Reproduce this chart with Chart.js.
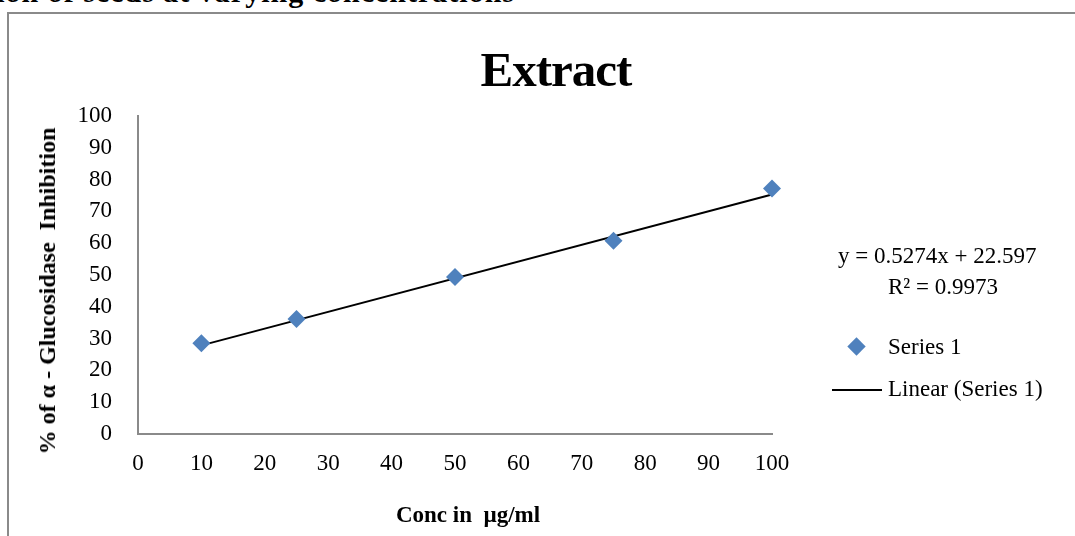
<!DOCTYPE html>
<html>
<head>
<meta charset="utf-8">
<script src="https://cdn.jsdelivr.net/npm/chart.js@4.4.1/dist/chart.umd.min.js"></script>
<style>
  html, body { margin: 0; padding: 0; background: #fff; overflow: hidden; }
  #wrap { position: relative; width: 1075px; height: 536px; overflow: hidden; font-family: "Liberation Serif", "Times New Roman", serif; color: #000; }
  #frame { position: absolute; left: 7px; top: 12px; width: 1200px; height: 700px; border: 2px solid #8a8a8a; box-sizing: border-box; }
  canvas { position: absolute; left: 0; top: 0; }
  .txt { position: absolute; white-space: nowrap; line-height: 1; }
  .bold { font-weight: bold; }
</style>
</head>
<body>
<div id="wrap">
  <div class="txt bold" style="right: 560px; top: -23px; font-size: 30px; letter-spacing: 1px;">α-glucosidase inhibition of seeds at varying concentrations</div>
  <div id="frame"></div>
  <canvas id="chart" width="1075" height="536"></canvas>
  <div class="txt bold" style="left: 556px; top: 45px; font-size: 49px; letter-spacing: -1px; transform: translateX(-50%);">Extract</div>
  <div class="txt bold" style="left: 47px; top: 291px; font-size: 24px; transform: translate(-50%, -50%) rotate(-90deg);">% of α - Glucosidase&nbsp; Inhibition</div>
  <div class="txt bold" style="left: 468px; top: 503px; font-size: 23px; transform: translateX(-50%);">Conc in&nbsp; µg/ml</div>
  <div class="txt" id="eq" style="left: 838px; top: 244px; font-size: 23px;"></div>
  <div class="txt" id="r2" style="left: 888px; top: 275px; font-size: 23px;"></div>
  <div style="position: absolute; left: 850px; top: 340px; width: 13px; height: 13px; background: #4F81BD; transform: rotate(45deg);"></div>
  <div class="txt" style="left: 888px; top: 335px; font-size: 23px;">Series 1</div>
  <div style="position: absolute; left: 832px; top: 389px; width: 50px; height: 2px; background: #000;"></div>
  <div class="txt" style="left: 888px; top: 377px; font-size: 23px;">Linear (Series 1)</div>
</div>
<script>
// data
const concs = [10, 25, 50, 75, 100];
const inhibition = [28.5, 36.2, 49.4, 60.8, 77.2];
// trendline as printed on the chart
const slope = 0.5274;
const intercept = 22.597;
const r2 = 0.9973;
const trendX = [10, 100];
const xTicks = [0, 10, 20, 30, 40, 50, 60, 70, 80, 90, 100];
const yTicks = [0, 10, 20, 30, 40, 50, 60, 70, 80, 90, 100];

document.getElementById('eq').textContent = 'y = ' + slope + 'x + ' + intercept;
document.getElementById('r2').textContent = 'R² = ' + r2;

const points = concs.map((c, i) => ({ x: c, y: inhibition[i] }));
const trend = trendX.map(x => ({ x: x, y: slope * x + intercept }));

const tickFont = { family: 'Liberation Serif', size: 23 };

new Chart(document.getElementById('chart'), {
  type: 'scatter',
  data: {
    datasets: [
      {
        label: 'Linear (Series 1)',
        type: 'line',
        data: trend,
        borderColor: '#000',
        borderWidth: 2,
        pointRadius: 0,
        fill: false,
        clip: false,
        order: 2
      },
      {
        label: 'Series 1',
        data: points,
        pointStyle: 'rectRot',
        pointRadius: 9,
        pointHoverRadius: 9,
        backgroundColor: '#4F81BD',
        borderColor: '#4F81BD',
        borderWidth: 0,
        clip: false,
        order: 1
      }
    ]
  },
  options: {
    responsive: false,
    animation: false,
    layout: { padding: { left: 0, top: 116, right: 303, bottom: 0 } },
    plugins: { legend: { display: false }, title: { display: false }, tooltip: { enabled: false } },
    scales: {
      x: {
        type: 'linear',
        min: 0,
        max: 100,
        afterBuildTicks: s => { s.ticks = xTicks.map(v => ({ value: v })); },
        afterFit: s => { s.height = 102; s.paddingLeft = 0; s.paddingRight = 0; },
        grid: { display: false },
        border: { display: true, color: '#8a8a8a', width: 2 },
        ticks: { font: tickFont, color: '#000', padding: 8, maxRotation: 0, autoSkip: false }
      },
      y: {
        type: 'linear',
        min: 0,
        max: 100,
        afterBuildTicks: s => { s.ticks = yTicks.map(v => ({ value: v })); },
        afterFit: s => { s.width = 138; s.paddingTop = 0; s.paddingBottom = 0; },
        grid: { display: false },
        border: { display: true, color: '#8a8a8a', width: 2 },
        ticks: { font: tickFont, color: '#000', padding: 18, autoSkip: false }
      }
    }
  }
});
</script>
</body>
</html>
